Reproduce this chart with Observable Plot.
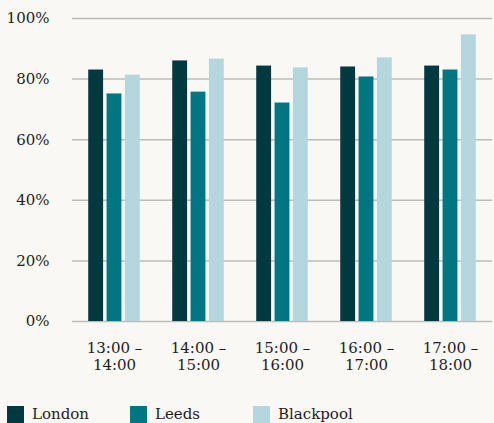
<!DOCTYPE html>
<html>
<head>
<meta charset="utf-8">
<script src="https://cdn.jsdelivr.net/npm/d3@7"></script>
<script src="https://cdn.jsdelivr.net/npm/@observablehq/plot@0.6"></script>
<style>
  html, body { margin: 0; padding: 0; background: #f9f8f4; }
  #wrap { position: relative; width: 494px; height: 423px; overflow: hidden; font-family: "DejaVu Serif", serif; color: #1e1e1e; }
  #legend { position: absolute; left: 7px; top: 406px; display: flex; }
  .item { width: 123px; display: flex; align-items: center; font-size: 15px; line-height: 17px; }
  .sw { width: 17px; height: 17px; margin-right: 8px; flex: none; }
</style>
</head>
<body>
<div id="wrap"><div id="chart"></div><div id="legend"></div></div>
<script>
const times = ["13:00 –\n14:00", "14:00 –\n15:00", "15:00 –\n16:00", "16:00 –\n17:00", "17:00 –\n18:00"];
const cities = ["London", "Leeds", "Blackpool"];
const london = [83.0, 86.0, 84.3, 84.0, 84.3];
const leeds = [75.1, 75.7, 72.1, 80.7, 83.0];
const blackpool = [81.3, 86.6, 83.7, 87.0, 94.6];
const yTicks = [0, 20, 40, 60, 80, 100];
const colors = ["#003a40", "#007682", "#b3d7dc"];

const series = [london, leeds, blackpool];
const data = times.flatMap((t, i) => cities.map((c, j) => ({time: t, city: c, value: series[j][i]})));

const chart = Plot.plot({
  width: 494,
  height: 395,
  marginLeft: 70,
  marginRight: 0,
  marginTop: 18,
  marginBottom: 74,
  style: {background: "#f9f8f4", fontFamily: "DejaVu Serif", fontSize: "15px", color: "#1e1e1e"},
  fx: {domain: times, padding: 0, label: null, axis: null},
  x: {domain: cities, paddingInner: 0.19, paddingOuter: 0.885, axis: null, round: false},
  y: {domain: [0, 100], label: null},
  color: {domain: cities, range: colors},
  marks: [
    Plot.gridY(yTicks, {stroke: "#bcbcb6", strokeOpacity: 1, strokeWidth: 1.5}),
    Plot.barY(data, {fx: "time", x: "city", y: "value", fill: "city"}),
    Plot.axisY(yTicks, {tickSize: 0, tickPadding: 23, tickFormat: d => d + "%", label: null, fontSize: 15}),
    Plot.axisFx({anchor: "bottom", tickSize: 0, tickPadding: 20, lineHeight: 1.1, label: null, fontSize: 15})
  ]
});
document.getElementById("chart").appendChild(chart);

const legend = d3.select("#legend");
cities.forEach((c, i) => {
  const it = legend.append("div").attr("class", "item");
  it.append("div").attr("class", "sw").style("background", colors[i]);
  it.append("span").text(c);
});
</script>
</body>
</html>
